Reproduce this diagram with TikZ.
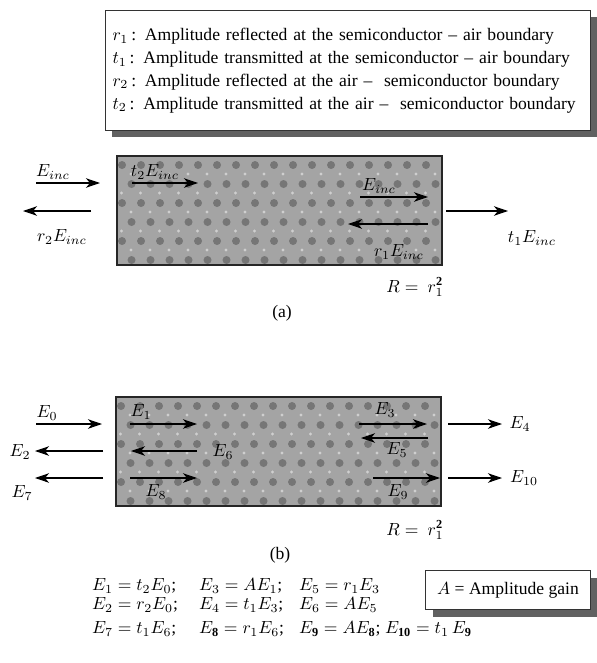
\documentclass[tikz,border=0pt]{standalone}
\usepackage{fontspec}
\setmainfont{Liberation Serif}
\usepackage{amsmath}
\usetikzlibrary{arrows.meta}
\definecolor{Slab}{HTML}{A4A4A4}
\definecolor{Blob}{HTML}{767676}
\definecolor{Speck}{HTML}{CFCFCF}

\begin{document}
\begin{tikzpicture}[x=0.02cm,y=-0.02cm,font=\fontsize{10}{13}\selectfont,
  wave/.style={-{Stealth[length=2.8mm,width=1.9mm,inset=0.8mm]},line width=0.6pt},
  lbl/.style={inner sep=1pt},
  legendbox/.style={draw=black!80,line width=0.6pt,fill=white},
  boxshade/.style={fill=black!62},
  slab/.style={draw=black!85,line width=0.9pt,fill=Slab,minimum width=6.5cm,
    minimum height=2.18cm,inner sep=0pt,
    path picture={
      \foreach \i in {0,...,17}
        \foreach \j in {0,...,5}{
          \fill[Blob] ([shift={({\i*19+5+mod(\j,2)*9.5},{\j*19+9})}]path picture bounding box.north west) circle[radius=4];
          \fill[Speck] ([shift={({\i*19+14-mod(\j,2)*9.5},{\j*19+18})}]path picture bounding box.north west) circle[radius=1.6];
        }}}]
  \useasboundingbox (0,0) rectangle (597,663);

  % box shadows
  \fill[boxshade] (112,17) rectangle (597,137);
  \fill[boxshade] (433,578) rectangle (597,617);

  % legend of the amplitude coefficients
  \node[legendbox,anchor=north west,minimum width=9.7cm,minimum height=2.4cm,
        text width=9.42cm,inner xsep=0.14cm,align=left] (legend) at (105,10)
  {$r_1$\,: Amplitude reflected at the semiconductor -- air boundary\\
   $t_1$\,: Amplitude transmitted at the semiconductor -- air boundary\\
   $r_2$\,: Amplitude reflected at the air -- \ semiconductor boundary\\
   $t_2$\,: Amplitude transmitted at the air -- \ semiconductor boundary};

  % the two slabs
  \node[slab] (slabA) at (279.5,210.5) {};
  \node[slab] (slabB) at (278.5,451.5) {};

  % arrow ends
  \foreach \n/\xa/\xb/\y in {aInc/36/100/183, aRef/91/23/211, aT2/132/198/183,
      aInR/360/428/197, aR1/428/348/224, aT1/446/508/211,
      bE0/36/102/424, bE2/103/35/451, bE7/103/35/478,
      bE1/130/197/424, bE6/197/131/451, bE8/130/197/478,
      bE3/359/427/424, bE5/428/361/438, bE9/373/440/478,
      bE4/448/502/424, bE10/448/502/478}{
    \coordinate (\n-s) at (\xa,\y);
    \coordinate (\n-e) at (\xb,\y);
  }
  \foreach \n in {aInc,aRef,aT2,aInR,aR1,aT1,bE0,bE2,bE7,bE1,bE6,bE8,bE3,bE5,bE9,bE4,bE10}
    \draw[wave] (\n-s) -- (\n-e);

  % (a) labels
  \node[lbl] (lInc) at (53,172) {$E_{inc}$};
  \node[lbl] (lRef) at (62,237) {$r_2E_{inc}$};
  \node[lbl] (lT2) at (155,172) {$t_2E_{inc}$};
  \node[lbl] (lInR) at (379,186) {$E_{inc}$};
  \node[lbl] (lR1) at (399,252) {$r_1E_{inc}$};
  \node[lbl] (lT1) at (532,238) {$t_1E_{inc}$};
  \node[lbl] (lRa) at (415,287) {$R =\ r_1^{\mathbf{2}}$};
  \node[lbl] (capA) at (282,313) {(a)};

  % (b) labels
  \node[lbl] (lE0) at (47,413) {$E_0$};
  \node[lbl] (lE2) at (20,452) {$E_2$};
  \node[lbl] (lE7) at (22,493) {$E_7$};
  \node[lbl] (lE1) at (141,412) {$E_1$};
  \node[lbl] (lE6) at (223,452) {$E_6$};
  \node[lbl] (lE8) at (156,492) {$E_8$};
  \node[lbl] (lE3) at (385,410) {$E_3$};
  \node[lbl] (lE5) at (397,450) {$E_5$};
  \node[lbl] (lE9) at (398,492) {$E_9$};
  \node[lbl] (lE4) at (520,424) {$E_4$};
  \node[lbl] (lE10) at (524,478) {$E_{10}$};
  \node[lbl] (lRb) at (415,530) {$R =\ r_1^{\mathbf{2}}$};
  \node[lbl] (capB) at (280,555) {(b)};

  % relations
  \node[lbl,anchor=west] (eq1) at (90,586) {$E_1 = t_2E_0$;};
  \node[lbl,anchor=west] (eq3) at (197,586) {$E_3 = AE_1$;};
  \node[lbl,anchor=west] (eq5) at (297,586) {$E_5 = r_1E_3$};
  \node[lbl,anchor=west] (eq2) at (90,605) {$E_2 = r_2E_0$;};
  \node[lbl,anchor=west] (eq4) at (197,605) {$E_4 = t_1E_3$;};
  \node[lbl,anchor=west] (eq6) at (297,605) {$E_6 = AE_5$};
  \node[lbl,anchor=west] (eq7) at (90,629) {$E_7 = t_1E_6$;};
  \node[lbl,anchor=west] (eq8) at (197,629) {$E_{\mathbf{8}} = r_1E_6$;};
  \node[lbl,anchor=west] (eq9) at (297,629) {$E_{\mathbf{9}} = AE_{\mathbf{8}}$;};
  \node[lbl,anchor=west] (eq10) at (383,629) {$E_{\mathbf{10}} = t_1\,E_{\mathbf{9}}$};

  \node[legendbox,minimum width=3.3cm,minimum height=0.78cm] (gain) at (508,590) {$A$ = Amplitude gain};
\end{tikzpicture}
\end{document}
